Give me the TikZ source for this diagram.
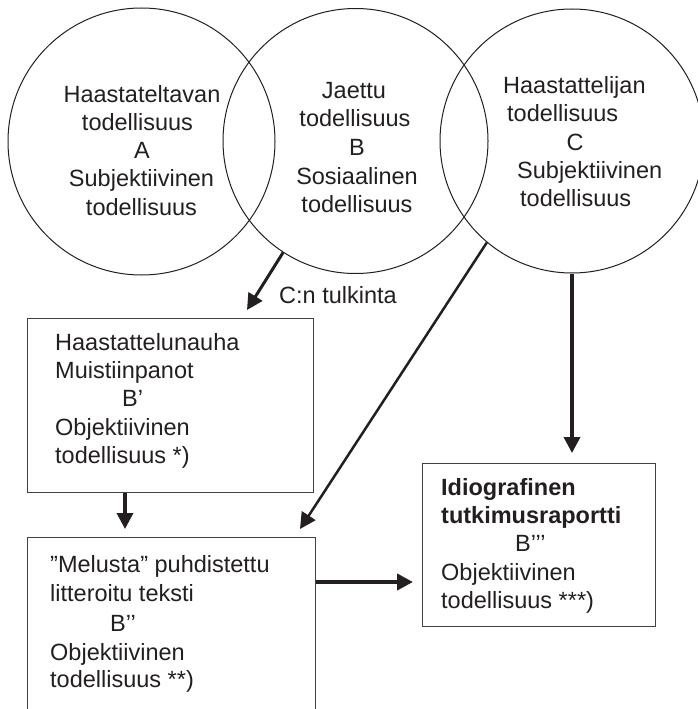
\documentclass[tikz,border=0pt]{standalone}
\usepackage{fontspec}
\setmainfont{Liberation Sans}
\usetikzlibrary{arrows.meta}
\definecolor{ink}{HTML}{231F20}
\begin{document}
\begin{tikzpicture}[x=1pt,y=-1pt,
  ring/.style={circle,draw=ink,line width=1pt,inner sep=0pt},
  box/.style={rectangle,draw=ink!85,line width=1.2pt,inner sep=0pt,anchor=north west},
  txt/.style={anchor=base,inner sep=0pt,text=ink,font=\fontsize{23.5}{28}\selectfont},
  ltxt/.style={txt,anchor=base west},
  arr/.style={draw=ink,line width=3.5pt,-{Triangle[length=16pt,width=16pt]}}
]
\clip (0,0) rectangle (698,709);

% three overlapping realities
\node[ring,minimum size=267pt] (cA) at (141.5,141.5) {};
\node[ring,minimum size=265pt] (cB) at (355.5,141) {};
\node[ring,minimum size=264pt] (cC) at (572,141) {};

\node[txt] (tA1) at (142,102.5) {Haastateltavan};
\node[txt] (tA2) at (137.5,130) {todellisuus};
\node[txt] (tA3) at (142,158.3) {A};
\node[txt] (tA4) at (141.5,186.7) {Subjektiivinen};
\node[txt] (tA5) at (141.5,215) {todellisuus};

\node[txt] (tB1) at (354,98.3) {Jaettu};
\node[txt] (tB2) at (355,126.7) {todellisuus};
\node[txt] (tB3) at (357,155) {B};
\node[txt] (tB4) at (357,184.5) {Sosiaalinen};
\node[txt] (tB5) at (357,212) {todellisuus};

\node[ltxt] (tC1) at (503,93.3) {Haastattelijan};
\node[ltxt] (tC2) at (507,121.7) {todellisuus};
\node[txt]  (tC3) at (575,150.5) {C};
\node[ltxt] (tC4) at (517,178.3) {Subjektiivinen};
\node[ltxt] (tC5) at (520,206.7) {todellisuus};

% documents derived from the interview
\node[box,minimum width=286pt,minimum height=174pt] (b1) at (27,318) {};
\node[box,minimum width=288pt,minimum height=190pt] (b2) at (27,537) {};
\node[box,minimum width=233pt,minimum height=163pt] (b3) at (422,463) {};

\node[ltxt] (t11) at (55,350) {Haastattelunauha};
\node[ltxt] (t12) at (55,378.3) {Muistiinpanot};
\node[ltxt] (t13) at (122,406.7) {B’};
\node[ltxt] (t14) at (55,435) {Objektiivinen};
\node[ltxt] (t15) at (55,463.3) {todellisuus *)};

\node[ltxt] (t21) at (50,572.7) {”Melusta” puhdistettu};
\node[ltxt] (t22) at (50,601.7) {litteroitu teksti};
\node[ltxt] (t23) at (110,631.7) {B’’};
\node[ltxt] (t24) at (50,660) {Objektiivinen};
\node[ltxt] (t25) at (50,687.5) {todellisuus **)};

\node[ltxt,font=\fontsize{23.5}{28}\selectfont\bfseries] (t31) at (441,495) {Idiografinen};
\node[ltxt,font=\fontsize{23.5}{28}\selectfont\bfseries] (t32) at (441,523) {tutkimusraportti};
\node[ltxt] (t33) at (515,551.7) {B’’’};
\node[ltxt] (t34) at (441,580) {Objektiivinen};
\node[ltxt] (t35) at (441,608) {todellisuus ***)};

\node[ltxt] (lab) at (279,303) {C:n tulkinta};

% arrow ends
\coordinate (e1) at (247,310);
\coordinate (e2) at (300,529);
\coordinate (e3) at (572,453);
\coordinate (e4) at (125,529);
\coordinate (e5) at (413,582);

\draw[arr,line width=3pt] (cB.237) -- (e1);
\draw[arr,line width=2.5pt] (cC.230) -- (e2);
\draw[arr] (cC.south) -- (e3);
\draw[arr] (b1.south -| e4) -- (e4);
\draw[arr,line width=4pt] (b2.east |- e5) -- (e5);
\end{tikzpicture}
\end{document}
